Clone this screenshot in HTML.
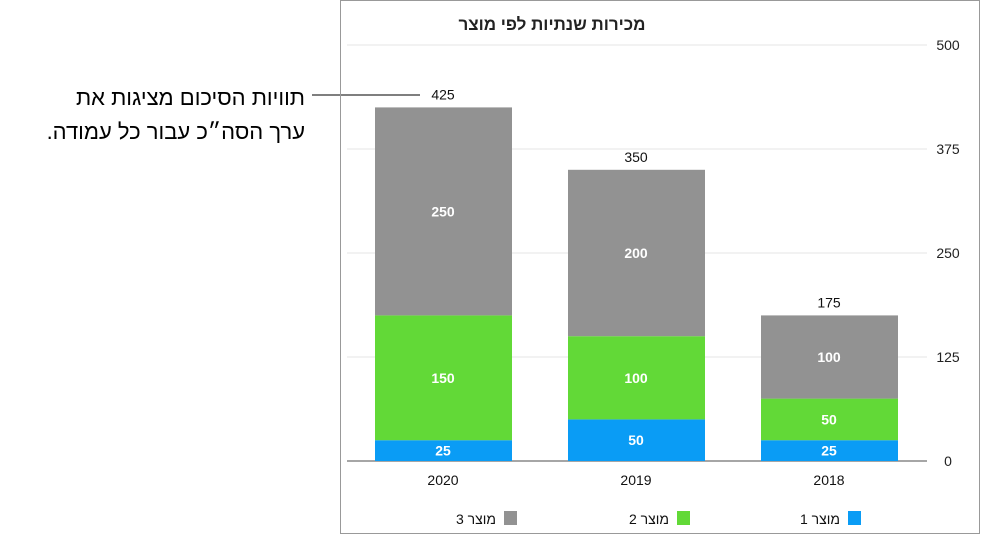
<!DOCTYPE html>
<html><head><meta charset="utf-8"><style>
body{margin:0;background:#fff;width:982px;height:535px;overflow:hidden;font-family:"Liberation Sans","Noto Sans CJK SC",sans-serif}
svg text{font-family:"Liberation Sans","DejaVu Sans",sans-serif}
</style></head><body>
<svg width="982" height="535">
<text x="305" y="105" text-anchor="start" font-size="22" fill="#000" direction="rtl">תוויות הסיכום מציגות את</text>
<text x="305" y="139" text-anchor="start" font-size="22" fill="#000" direction="rtl">ערך הסה״כ עבור כל עמודה.</text>
<line x1="312" y1="95" x2="420" y2="95" stroke="#555" stroke-width="1.5"/>
<rect x="340.5" y="0.5" width="639" height="533" fill="none" stroke="#999"/>
<text x="552" y="30" text-anchor="middle" font-size="17" font-weight="bold" fill="#222" direction="rtl">מכירות שנתיות לפי מוצר</text>
<g id="grid"></g><g id="bars"></g><g id="legend"></g>
</svg>
<script>
const categories=["2020","2019","2018"];
const product1=[25,50,25];
const product2=[150,100,50];
const product3=[250,200,100];
const ticks=[0,125,250,375,500];
const seriesNames=["מוצר 1","מוצר 2","מוצר 3"];
const colors=["#0a9cf5","#62d937","#929292"];
const NS="http://www.w3.org/2000/svg";
function y(v){return 461-v*416/500;}
function x(i){return 443+i*193;}
function mk(tag,attrs,parent,txt){const e=document.createElementNS(NS,tag);for(const k in attrs)e.setAttribute(k,attrs[k]);if(txt!==undefined)e.textContent=txt;parent.appendChild(e);return e;}
const grid=document.getElementById('grid'),bars=document.getElementById('bars'),leg=document.getElementById('legend');
ticks.forEach(t=>{
 const l=mk('line',{x1:347,x2:927,y1:y(t),y2:y(t),stroke:t===0?'#888':'#e6e6e6','stroke-width':t===0?1.5:1},grid);
 
 
 const tx=mk('text',{x:948,y:y(t)+5,'text-anchor':'middle','font-size':14,fill:'#222'},grid,String(t));
 
 
});
const series=[product1,product2,product3];
categories.forEach((c,i)=>{
 let base=0;
 series.forEach((s,k)=>{
  const v=s[i];
  const r=mk('rect',{x:x(i)-68,width:137,y:y(base+v),height:y(base)-y(base+v),fill:colors[k]},bars);
  
  
  const t=mk('text',{x:x(i),y:(y(base)+y(base+v))/2+5,'text-anchor':'middle','font-size':14,'font-weight':'bold',fill:'#fff'},bars,String(v));
  
  
  base+=v;
 });
 const tt=mk('text',{x:x(i),y:y(base)-8,'text-anchor':'middle','font-size':14,fill:'#111'},bars,String(base));
 
 
 const xl=mk('text',{x:x(i),y:485,'text-anchor':'middle','font-size':14,fill:'#111'},bars,c);
 
 
});
const legX=[848,677,504];
seriesNames.forEach((n,k)=>{
 const r=mk('rect',{x:legX[k],y:511,width:13,height:14,fill:colors[k]},leg);
 
 
 const t=mk('text',{x:legX[k]-8,y:524,'text-anchor':'start','font-size':14,fill:'#111',direction:'rtl'},leg,n);
 
 
});
</script>
</body></html>
